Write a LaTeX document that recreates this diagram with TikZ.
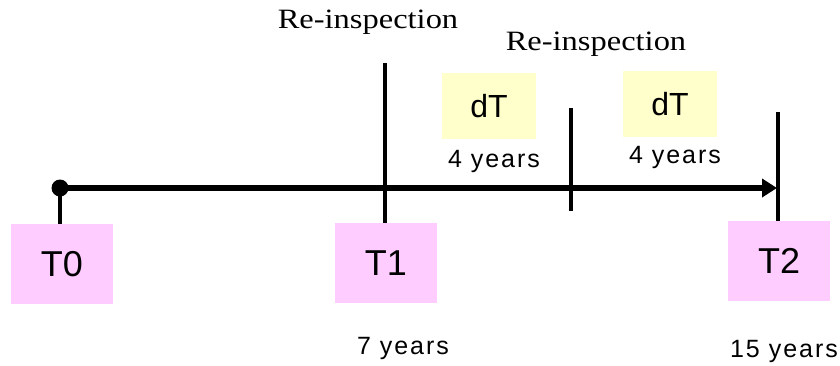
\documentclass[tikz,border=0pt]{standalone}
\usepackage{fontspec}
\setmainfont{Liberation Serif}
\newfontfamily\labelfont{Liberation Sans}
\newfontfamily\yearfont[LetterSpace=8]{Liberation Sans}
\usetikzlibrary{arrows.meta}
\definecolor{tbox}{HTML}{FFCCFF}
\definecolor{dbox}{HTML}{FFFFCC}
\begin{document}
\begin{tikzpicture}[x=1pt,y=-1pt,
  timebox/.style={fill=tbox,minimum width=102pt,minimum height=80pt,inner sep=0pt,
    font=\labelfont\fontsize{36}{40}\selectfont},
  deltabox/.style={fill=dbox,minimum width=94pt,minimum height=66pt,inner sep=0pt,
    font=\labelfont\fontsize{32}{36}\selectfont},
  yearlabel/.style={font=\yearfont\fontsize{25}{28}\selectfont,inner sep=0pt},
  inspect/.style={font=\fontsize{28}{32}\selectfont,inner sep=0pt,xscale=1.16},
  tick/.style={line width=4pt},
  axis/.style={line width=6pt,-{Triangle[length=15pt,width=18pt]}}
]
\useasboundingbox (0,0) rectangle (840,365);

% time axis
\coordinate (start) at (60,188);
\coordinate (end) at (777,188);
\draw[axis] (start) -- (end);
\fill (start) circle (8.5pt);

% reference times
\node[timebox] (t0) at (62,264) {T0};
\node[timebox] (t1) at (386,263) {T1};
\node[timebox] (t2) at (779,261) {T2};

% ticks
\coordinate (t1top) at (385,63);
\coordinate (midtop) at (571,108);
\coordinate (midbot) at (571,211);
\coordinate (t2top) at (778,112);
\draw[tick] (start) -- (start |- t0.north);
\draw[tick] (t1top) -- (t1top |- t1.north);
\draw[tick] (midtop) -- (midbot);
\draw[tick] (t2top) -- (t2top |- t2.north);

% intervals
\node[deltabox] (d1) at (489,106) {dT};
\node[deltabox] (d2) at (670,104) {dT};
\node[yearlabel] (y1) at (494,161) {4 years};
\node[yearlabel] (y2) at (675,157) {4 years};
\node[yearlabel] (y3) at (403,348) {7 years};
\node[yearlabel] (y4) at (784,351) {15 years};

% inspections
\node[inspect] (r1) at (368,22) {Re-inspection};
\node[inspect] (r2) at (596,44) {Re-inspection};
\end{tikzpicture}
\end{document}
